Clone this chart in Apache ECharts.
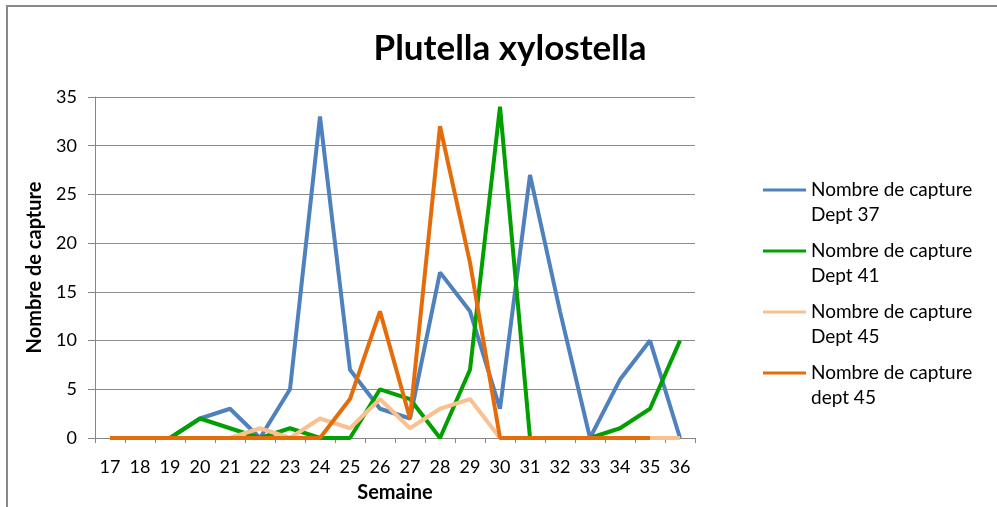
<!DOCTYPE html>
<html>
<head>
<meta charset="utf-8">
<script src="https://cdn.jsdelivr.net/npm/echarts@6/dist/echarts.min.js"></script>
<style>
html,body{margin:0;padding:0;background:#fff;}
#chart{width:997px;height:507px;}
</style>
</head>
<body>
<div id="chart"></div>
<script>
// semaines
var weeks = ['17','18','19','20','21','22','23','24','25','26','27','28','29','30','31','32','33','34','35','36'];
// captures par departement
var dept37 = [0,0,0,2,3,0,5,33,7,3,2,17,13,3,27,13,0,6,10,0];
var dept41 = [0,0,0,2,1,0,1,0,0,5,4,0,7,34,0,0,0,1,3,10];
var dept45 = [0,0,0,0,0,1,0,2,1,4,1,3,4,0,0,0,0,0,0,0];
var dept45b = [0,0,0,0,0,0,0,0,4,13,2,32,18,0,0,0,0,0,0,null];

var names = ['Nombre de capture\nDept 37', 'Nombre de capture\nDept 41', 'Nombre de capture\nDept 45', 'Nombre de capture\ndept 45'];
var colors = ['#4f81bd', '#00a000', '#fac090', '#e46c0a'];
var values = [dept37, dept41, dept45, dept45b];

var font = 'Lato, "Open Sans", sans-serif';
var lh = 25;
var legendY = [190, 251, 312, 373];

var myChart = echarts.init(document.getElementById('chart'));

var option = {
  backgroundColor: '#fff',
  animation: false,
  color: colors,
  title: {
    text: 'Plutella xylostella',
    left: 505,
    textAlign: 'center',
    top: 26,
    textStyle: {fontFamily: font, fontSize: 35, fontWeight: 'bold', color: '#000'}
  },
  // un legende par serie pour placer chaque element
  legend: names.map(function (n, i) {
    return {
      data: [n],
      left: 763,
      top: legendY[i] - 1.5 * lh,
      icon: 'rect',
      itemWidth: 43,
      itemHeight: 3,
      itemGap: 0,
      padding: 0,
      selectedMode: false,
      // ligne vide en tete pour aligner le trait sur la premiere ligne
      formatter: function (name) { return ' \n' + name; },
      textStyle: {fontFamily: font, fontSize: 19, color: '#000', lineHeight: lh}
    };
  }),
  grid: {left: 95, right: 302, top: 97, bottom: 69, outerBoundsMode: 'none'},
  xAxis: {
    type: 'category',
    data: weeks,
    name: 'Semaine',
    nameLocation: 'middle',
    nameGap: 45,
    nameTextStyle: {fontFamily: font, fontSize: 20, fontWeight: 'bold', color: '#000'},
    axisLine: {lineStyle: {color: '#868686', width: 1}},
    axisTick: {show: true, length: 5, lineStyle: {color: '#868686'}},
    axisLabel: {fontFamily: font, fontSize: 18, color: '#000', margin: 20, interval: 0}
  },
  yAxis: {
    type: 'value',
    min: 0,
    max: 35,
    interval: 5,
    name: 'Nombre de capture',
    nameLocation: 'middle',
    nameGap: 50,
    nameTextStyle: {fontFamily: font, fontSize: 20, fontWeight: 'bold', color: '#000'},
    axisLine: {show: true, lineStyle: {color: '#868686', width: 1}},
    axisTick: {show: true, length: 7, lineStyle: {color: '#868686'}},
    axisLabel: {fontFamily: font, fontSize: 18, color: '#000', margin: 18},
    splitLine: {lineStyle: {color: '#8c8c8c', width: 1}}
  },
  graphic: [{
    type: 'polyline',
    shape: {points: [[7, 507], [7, 6], [997, 6]]},
    style: {stroke: '#888', lineWidth: 2, fill: null}
  }],
  series: values.map(function (v, i) {
    return {
      name: names[i],
      type: 'line',
      data: v,
      showSymbol: false,
      symbol: 'none',
      lineStyle: {color: colors[i], width: 4},
      itemStyle: {color: colors[i]}
    };
  })
};

myChart.setOption(option);
window.addEventListener("resize", function () {
  myChart.resize();
});
</script>
</body>
</html>
